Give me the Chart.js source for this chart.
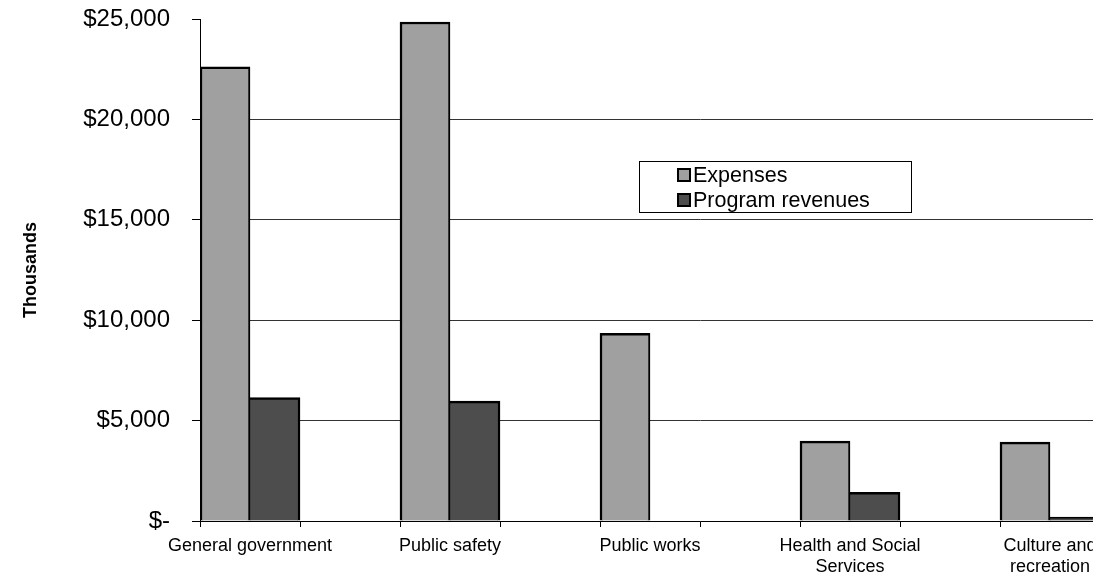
<!DOCTYPE html>
<html>
<head>
<meta charset="utf-8">
<script src="https://cdn.jsdelivr.net/npm/chart.js@4"></script>
<style>
    html, body { margin: 0; padding: 0; background: #fff; overflow: hidden; }
    #wrap { width: 1093px; height: 579px; overflow: hidden; }
</style>
</head>
<body>
<div id="wrap"><canvas id="expense_chart" width="1210" height="579"></canvas></div>
<script>
// functions (thousands of dollars)
const categories = ["General government", "Public safety", "Public works", ["Health and Social", "Services"], ["Culture and", "recreation"]];
const expenses   = [22620, 24850, 9350, 3980, 3930];
const revenues   = [6150, 5970, 0, 1430, 200];
const y_ticks    = [0, 5000, 10000, 15000, 20000, 25000];

// each function is followed by an empty slot, so the groups sit apart
let labels = [];
let exp_data = [];
let rev_data = [];
for (let i = 0; i < categories.length; i++) {
    labels.push(categories[i], "");
    exp_data.push(expenses[i], null);
    rev_data.push(revenues[i], null);
}

const font_name = "'Liberation Sans', Arial, sans-serif";

// boxed legend inside the plot
const box_legend = {
    id: "box_legend",
    afterDraw(chart) {
        const ctx = chart.ctx;
        ctx.save();
        ctx.fillStyle = "#fff";
        ctx.fillRect(639.5, 161.5, 272, 51);
        ctx.strokeStyle = "#000";
        ctx.lineWidth = 1;
        ctx.strokeRect(639.5, 161.5, 272, 51);
        ctx.font = "21.5px " + font_name;
        ctx.textBaseline = "middle";
        ctx.textAlign = "left";
        chart.data.datasets.forEach(function (ds, i) {
            const y = 175 + i * 25;
            ctx.fillStyle = ds.backgroundColor;
            ctx.fillRect(678, y - 6, 12, 12);
            ctx.lineWidth = 2;
            ctx.strokeStyle = "#000";
            ctx.strokeRect(678, y - 6, 12, 12);
            ctx.fillStyle = "#000";
            ctx.fillText(ds.label, 693, y + 1);
        });
        ctx.restore();
    }
};

const ctx = document.getElementById("expense_chart").getContext("2d");
const myChart = new Chart(ctx, {
    type: "bar",
    data: {
        labels: labels,
        datasets: [
            {
                label: "Expenses",
                data: exp_data,
                backgroundColor: "#a0a0a0",
                borderColor: "#000",
                borderWidth: { left: 2.5, top: 2.5, right: 2, bottom: 0 }
            },
            {
                label: "Program revenues",
                data: rev_data,
                backgroundColor: "#4d4d4d",
                borderColor: "#000",
                borderWidth: { left: 0.5, top: 2.5, right: 2.5, bottom: 0 }
            }
        ]
    },
    options: {
        responsive: false,
        animation: false,
        layout: { padding: { top: 19, right: 10, left: 0, bottom: 0 } },
        datasets: { bar: { barPercentage: 1, categoryPercentage: 1 } },
        plugins: {
            legend: { display: false },
            tooltip: { enabled: false }
        },
        scales: {
            x: {
                offset: true,
                grid: {
                    offset: true,
                    drawOnChartArea: false,
                    tickLength: 6,
                    color: "#000"
                },
                border: { color: "#000", width: 1 },
                ticks: {
                    autoSkip: false,
                    maxRotation: 0,
                    minRotation: 0,
                    padding: 8,
                    color: "#000",
                    font: { family: font_name, size: 18 }
                },
                afterFit: function (s) {
                    s.height = 58;
                    s.paddingLeft = 0;
                    s.paddingRight = 0;
                }
            },
            y: {
                min: 0,
                max: 25000,
                afterBuildTicks: function (s) {
                    s.ticks = y_ticks.map(function (v) { return { value: v }; });
                },
                grid: {
                    color: function (c) {
                        return c.tick && c.tick.value === 25000 ? "rgba(0,0,0,0)" : "#333";
                    },
                    tickColor: "#000",
                    tickLength: 8
                },
                border: { color: "#000", width: 1 },
                ticks: {
                    padding: 22,
                    color: "#000",
                    font: { family: font_name, size: 24 },
                    callback: function (v) {
                        return v === 0 ? "$-" : "$" + v.toLocaleString("en-US");
                    }
                },
                title: {
                    display: true,
                    text: "Thousands",
                    color: "#000",
                    padding: { top: 20, bottom: 0 },
                    font: { family: font_name, size: 18, weight: "bold" }
                },
                afterFit: function (s) {
                    s.width = 200;
                    s.paddingTop = 0;
                    s.paddingBottom = 0;
                }
            }
        }
    },
    plugins: [box_legend]
});
</script>
</body>
</html>
